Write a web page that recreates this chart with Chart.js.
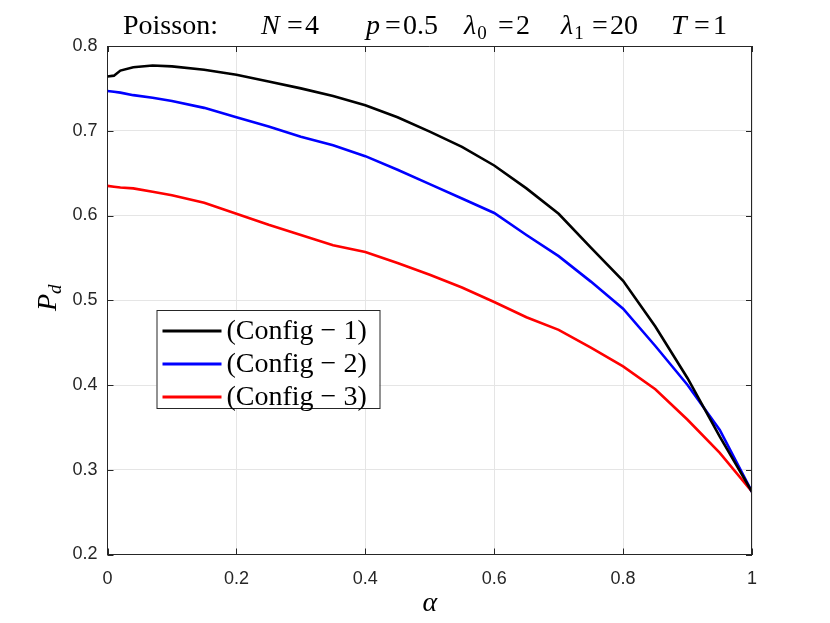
<!DOCTYPE html>
<html>
<head>
<meta charset="utf-8">
<script src="https://cdn.jsdelivr.net/npm/chart.js@4/dist/chart.umd.min.js"></script>
<style>
  body { margin: 0; background: #fff; }
  #wrap { width: 830px; height: 623px; position: relative; }
</style>
</head>
<body>
<div id="wrap"><canvas id="pdChart"></canvas></div>
<script>
// alpha grid and detection probability per configuration
const alpha = [0, 0.01, 0.02, 0.04, 0.07, 0.1, 0.15, 0.2, 0.25, 0.3, 0.35, 0.4, 0.45, 0.5,
  0.55, 0.6, 0.65, 0.7, 0.75, 0.8, 0.85, 0.9, 0.95, 1];
const config1 = [0.764, 0.765, 0.771, 0.775, 0.777, 0.776, 0.772, 0.766, 0.758, 0.750, 0.741, 0.730,
  0.716, 0.699, 0.681, 0.659, 0.632, 0.602, 0.562, 0.523, 0.469, 0.408, 0.339, 0.274];
const config2 = [0.747, 0.746, 0.745, 0.742, 0.739, 0.735, 0.727, 0.716, 0.705, 0.693, 0.683, 0.670,
  0.654, 0.637, 0.620, 0.603, 0.577, 0.552, 0.522, 0.490, 0.446, 0.400, 0.347, 0.274];
const config3 = [0.635, 0.634, 0.633, 0.632, 0.628, 0.624, 0.615, 0.602, 0.589, 0.577, 0.565, 0.557,
  0.544, 0.530, 0.515, 0.498, 0.480, 0.465, 0.444, 0.422, 0.395, 0.359, 0.320, 0.274];
const seriesLabels = ["(Config \u2212 1)", "(Config \u2212 2)", "(Config \u2212 3)"];
const xTicks = [0, 0.2, 0.4, 0.6, 0.8, 1];
const yTicks = [0.2, 0.3, 0.4, 0.5, 0.6, 0.7, 0.8];

const axisColor = "#262626";
const serif = "'Liberation Serif', 'DejaVu Serif', serif";

function pts(ys) {
  return alpha.map((a, i) => ({ x: a, y: ys[i] }));
}

// title, axis labels, box, inner ticks and legend drawn in matlab style
const matlabLook = {
  id: "matlabLook",
  afterDatasetsDraw(chart) {
    const ctx = chart.ctx;
    const { left, right, top, bottom } = chart.chartArea;
    const xs = chart.scales.x, ys = chart.scales.y;
    ctx.save();

    // box and ticks
    ctx.strokeStyle = axisColor;
    ctx.lineWidth = 1;
    ctx.beginPath();
    ctx.moveTo(left, top + 0.5); ctx.lineTo(right, top + 0.5);
    ctx.moveTo(right - 0.5, top); ctx.lineTo(right - 0.5, bottom);
    xTicks.forEach(v => {
      const px = Math.round(xs.getPixelForValue(v)) + 0.5;
      ctx.moveTo(px, bottom); ctx.lineTo(px, bottom - 6);
      ctx.moveTo(px, top); ctx.lineTo(px, top + 6);
    });
    yTicks.forEach(v => {
      const py = Math.round(ys.getPixelForValue(v)) + 0.5;
      ctx.moveTo(left, py); ctx.lineTo(left + 6, py);
      ctx.moveTo(right, py); ctx.lineTo(right - 6, py);
    });
    ctx.stroke();

    // legend
    const bx = left + 49, by = 310, bw = 223, bh = 98;
    ctx.fillStyle = "#fff";
    ctx.fillRect(bx, by, bw, bh);
    ctx.strokeStyle = axisColor;
    ctx.strokeRect(bx + 0.5, by + 0.5, bw, bh);
    ctx.font = "28px " + serif;
    ctx.textBaseline = "middle";
    ctx.textAlign = "left";
    chart.data.datasets.forEach((ds, i) => {
      const ry = by + 21 + i * 33;
      ctx.strokeStyle = ds.borderColor;
      ctx.lineWidth = 3;
      ctx.beginPath();
      ctx.moveTo(bx + 6, ry); ctx.lineTo(bx + 65, ry);
      ctx.stroke();
      ctx.fillStyle = "#000";
      ctx.fillText(ds.label, bx + 70, ry + 1);
    });

    // title
    ctx.fillStyle = "#000";
    ctx.textBaseline = "alphabetic";
    const rom = "28px " + serif, ita = "italic 28px " + serif, sub = "19px " + serif;
    const base = 34;
    const put = (t, x, f, dy) => { ctx.font = f; ctx.fillText(t, x, base + (dy || 0)); return x + ctx.measureText(t).width; };
    put("Poisson:", 123, rom);
    put("N", 261, ita); put("=", 287, rom); put("4", 305, rom);
    put("p", 366, ita); put("=", 385, rom); put("0.5", 403, rom);
    let e = put("\u03bb", 464, ita); put("0", e + 1, sub, 5); put("=", 498, rom); put("2", 516, rom);
    e = put("\u03bb", 561, ita); put("1", e + 1, sub, 5); put("=", 592, rom); put("20", 610, rom);
    put("T", 671, ita); put("=", 694, rom); put("1", 713, rom);

    // x label
    ctx.font = "italic 28px " + serif;
    ctx.textAlign = "center";
    ctx.fillText("\u03b1", (left + right) / 2, 611);

    // y label P_d
    ctx.translate(56, 298);
    ctx.rotate(-Math.PI / 2);
    ctx.textAlign = "left";
    ctx.font = "italic 28px " + serif;
    const pw = ctx.measureText("P").width;
    ctx.fillText("P", -13, 0);
    ctx.font = "italic 19px " + serif;
    ctx.fillText("d", -13 + pw, 5);
    ctx.restore();
  }
};

new Chart(document.getElementById("pdChart"), {
  type: "line",
  data: {
    datasets: [
      { label: seriesLabels[0], data: pts(config1), borderColor: "#000000" },
      { label: seriesLabels[1], data: pts(config2), borderColor: "#0000ff" },
      { label: seriesLabels[2], data: pts(config3), borderColor: "#ff0000" }
    ]
  },
  options: {
    responsive: true,
    maintainAspectRatio: false,
    animation: false,
    layout: { padding: { top: 46, right: 78, bottom: 0, left: 0 } },
    elements: {
      line: { borderWidth: 2.6, tension: 0, fill: false },
      point: { radius: 0 }
    },
    plugins: {
      legend: { display: false },
      title: { display: false },
      tooltip: { enabled: false }
    },
    scales: {
      x: {
        type: "linear", min: 0, max: 1,
        afterFit: s => { s.height = 68.5; },
        afterBuildTicks: s => { s.ticks = xTicks.map(v => ({ value: v })); },
        ticks: {
          color: axisColor, padding: 14,
          font: { family: "'Liberation Sans', Arial, sans-serif", size: 18 },
          callback: v => String(+v.toFixed(1))
        },
        grid: { color: "#e5e5e5", drawTicks: false },
        border: { color: axisColor }
      },
      y: {
        min: 0.2, max: 0.8,
        afterFit: s => { s.width = 107.5; },
        afterBuildTicks: s => { s.ticks = yTicks.map(v => ({ value: v })); },
        ticks: {
          color: axisColor, padding: 10,
          font: { family: "'Liberation Sans', Arial, sans-serif", size: 18 },
          callback: v => String(+v.toFixed(1))
        },
        grid: { color: "#e5e5e5", drawTicks: false },
        border: { color: axisColor }
      }
    }
  },
  plugins: [matlabLook]
});
</script>
</body>
</html>
